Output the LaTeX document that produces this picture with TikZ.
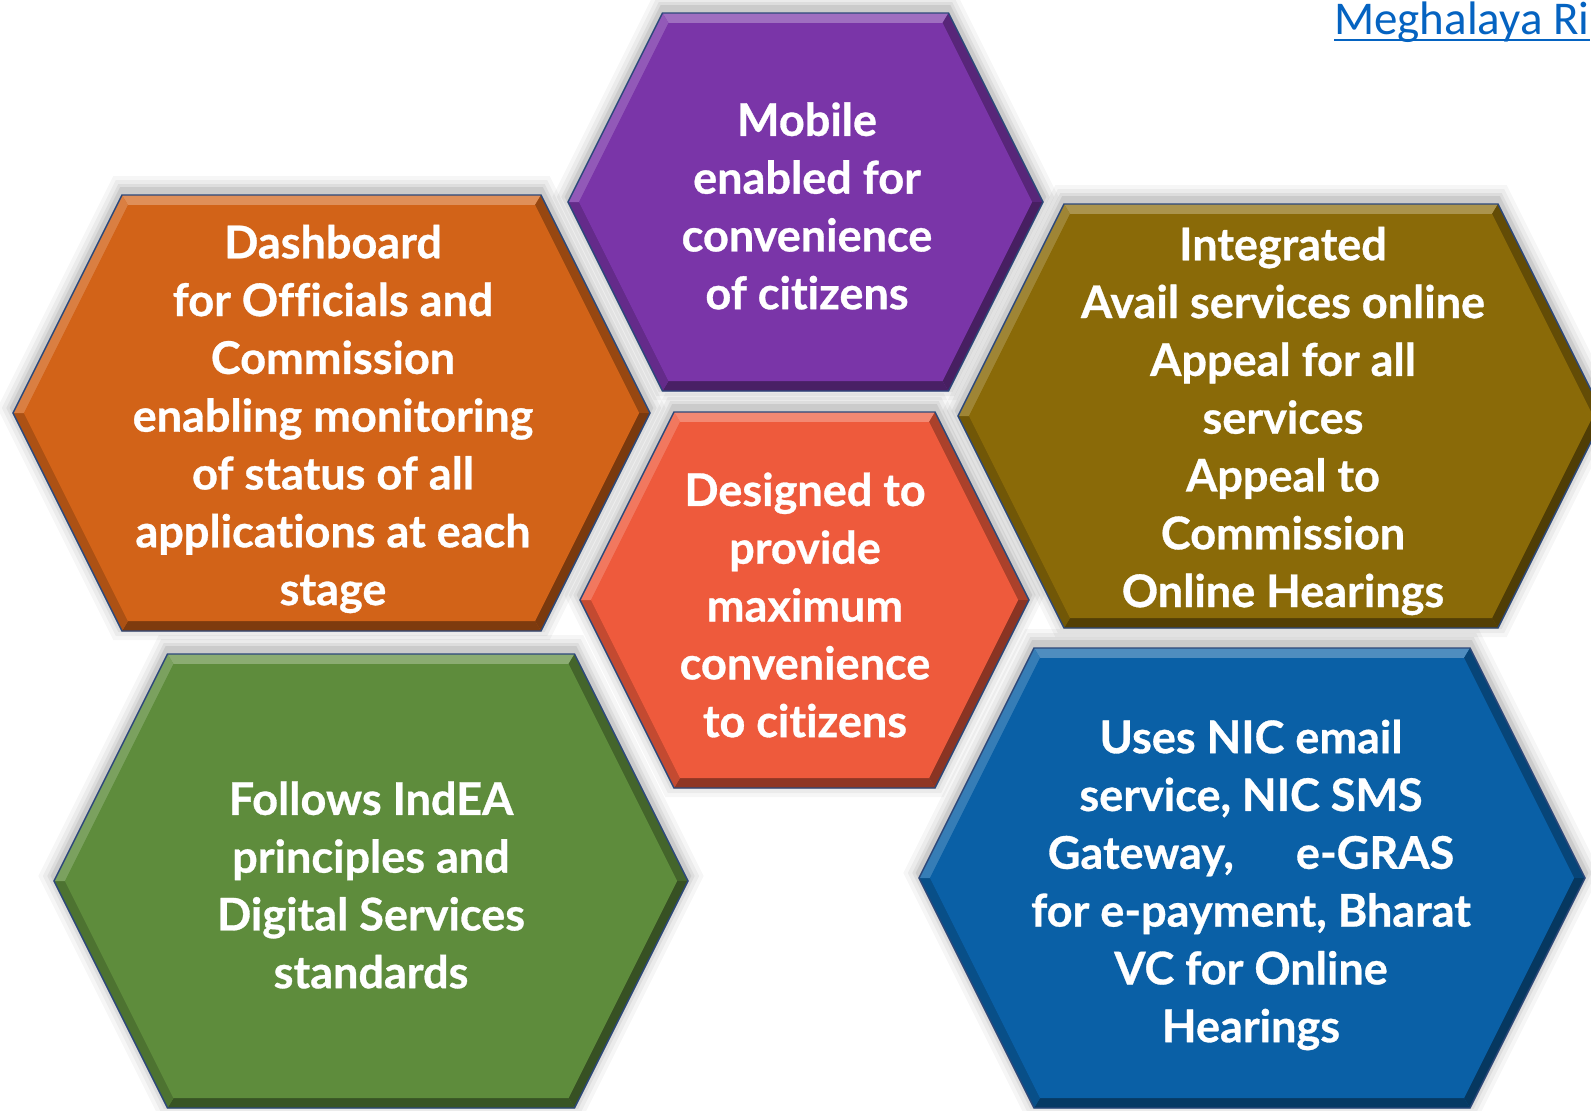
\documentclass[tikz,border=0pt]{standalone}
\usepackage{fontspec}
\setmainfont{Lato}[Ligatures=NoCommon,BoldFeatures={FakeBold=0.7}]
\newfontfamily\linkfont{Carlito}
\usetikzlibrary{calc}
\definecolor{cPurple}{RGB}{122,53,168}
\definecolor{cOrange}{RGB}{210,99,24}
\definecolor{cOlive}{RGB}{138,106,8}
\definecolor{cRed}{RGB}{238,90,60}
\definecolor{cGreen}{RGB}{94,140,60}
\definecolor{cBlue}{RGB}{10,96,166}
\definecolor{cEdge}{RGB}{44,72,122}
\definecolor{cLink}{RGB}{5,99,193}
% hexagon path around (\hxX,\hxY) with half width #1 and half height #2
\newcommand{\hexshape}[2]{({\hxX-(#1)+(#2)/2},{\hxY-(#2)}) -- ({\hxX+(#1)-(#2)/2},{\hxY-(#2)}) -- ({\hxX+(#1)},{\hxY}) -- ({\hxX+(#1)-(#2)/2},{\hxY+(#2)}) -- ({\hxX-(#1)+(#2)/2},{\hxY+(#2)}) -- ({\hxX-(#1)},{\hxY}) -- cycle}
% shadow: X Y W H
\newcommand{\hexshadow}[4]{%
  \def\hxX{#1}\pgfmathsetmacro{\hxY}{#2-5}%
  \foreach \s/\op in {14/0.035,10/0.045,6/0.06,3/0.08}{%
    \fill[black,opacity=\op] \hexshape{#3+1.118*\s}{#4+\s};}%
}
% body: X Y W H colour
\newcommand{\hexbody}[5]{%
  \def\hxX{#1}\def\hxY{#2}%
  \pgfmathsetmacro{\hxW}{#3}\pgfmathsetmacro{\hxH}{#4}%
  \pgfmathsetmacro{\hxT}{\hxW-\hxH/2}%
  \pgfmathsetmacro{\hxWi}{\hxW-11}\pgfmathsetmacro{\hxHi}{\hxH-10}%
  \pgfmathsetmacro{\hxTi}{\hxWi-\hxHi/2}%
  \coordinate (o1) at ({\hxX-\hxT},{\hxY-\hxH});
  \coordinate (o2) at ({\hxX+\hxT},{\hxY-\hxH});
  \coordinate (o3) at ({\hxX+\hxW},{\hxY});
  \coordinate (o4) at ({\hxX+\hxT},{\hxY+\hxH});
  \coordinate (o5) at ({\hxX-\hxT},{\hxY+\hxH});
  \coordinate (o6) at ({\hxX-\hxW},{\hxY});
  \coordinate (i1) at ({\hxX-\hxTi},{\hxY-\hxHi});
  \coordinate (i2) at ({\hxX+\hxTi},{\hxY-\hxHi});
  \coordinate (i3) at ({\hxX+\hxWi},{\hxY});
  \coordinate (i4) at ({\hxX+\hxTi},{\hxY+\hxHi});
  \coordinate (i5) at ({\hxX-\hxTi},{\hxY+\hxHi});
  \coordinate (i6) at ({\hxX-\hxWi},{\hxY});
  \fill[#5] (o1)--(o2)--(o3)--(o4)--(o5)--(o6)--cycle;
  \fill[#5!72!white] (o1)--(o2)--(i2)--(i1)--cycle;
  \fill[#5!72!black] (o2)--(o3)--(i3)--(i2)--cycle;
  \fill[#5!58!black] (o3)--(o4)--(i4)--(i3)--cycle;
  \fill[#5!60!black] (o4)--(o5)--(i5)--(i4)--cycle;
  \fill[#5!82!black] (o5)--(o6)--(i6)--(i5)--cycle;
  \fill[#5!82!white] (o6)--(o1)--(i1)--(i6)--cycle;
  \fill[#5] (i1)--(i2)--(i3)--(i4)--(i5)--(i6)--cycle;
  \draw[cEdge,line width=1.4pt,line join=miter] (o1)--(o2)--(o3)--(o4)--(o5)--(o6)--cycle;
}
\tikzset{
  hextext/.style={text=white,align=center,inner sep=0pt,
    font=\fontsize{45}{57.8}\selectfont\bfseries},
  linktext/.style={text=cLink,inner sep=0pt,anchor=base west,
    font=\linkfont\fontsize{47}{50}\selectfont}
}
\begin{document}
\begin{tikzpicture}[x=1pt,y=-1pt]
\useasboundingbox (0,0) rectangle (1591,1111);
\clip (0,0) rectangle (1591,1111);
\fill[white] (0,0) rectangle (1591,1111);
% shadows
\hexshadow{805.5}{202}{237.5}{189}
\hexshadow{331.5}{413}{318.5}{218}
\hexshadow{1281}{416}{323}{212}
\hexshadow{804.5}{600}{224.5}{188}
\hexshadow{371}{881}{317}{227}
\hexshadow{1252}{878}{333}{230}
% bodies
\hexbody{805.5}{202}{237.5}{189}{cPurple}
\hexbody{331.5}{413}{318.5}{218}{cOrange}
\hexbody{1281}{416}{323}{212}{cOlive}
\hexbody{804.5}{600}{224.5}{188}{cRed}
\hexbody{371}{881}{317}{227}{cGreen}
\hexbody{1252}{878}{333}{230}{cBlue}
% texts
\node[hextext] (mobile) at (807,206) {Mobile\\enabled for\\convenience\\of citizens};
\node[hextext] (dash) at (333,419) {Dashboard\\for Officials and\\Commission\\enabling monitoring\\of status of all\\applications at each\\stage};
\node[hextext] (integ) at (1283,421) {Integrated\\Avail services online\\Appeal for all\\services\\Appeal to\\Commission\\Online Hearings};
\node[hextext] (design) at (805,605) {Designed to\\provide\\maximum\\convenience\\to citizens};
\node[hextext] (indea) at (371,885) {Follows IndEA\\principles and\\Digital Services\\standards};
\node[hextext] (nic) at (1251,885) {Uses NIC email\\service, NIC SMS\\Gateway,\hspace{62pt}e-GRAS\\for e-payment, Bharat\\VC for Online\\Hearings};
% link
\node[linktext] (link) at (1334,34) {Meghalaya Ri};
\draw[cLink,line width=2.6pt] ($(link.base west)+(0,6)$) -- ($(link.base east)+(0,6)$);
\end{tikzpicture}
\end{document}
